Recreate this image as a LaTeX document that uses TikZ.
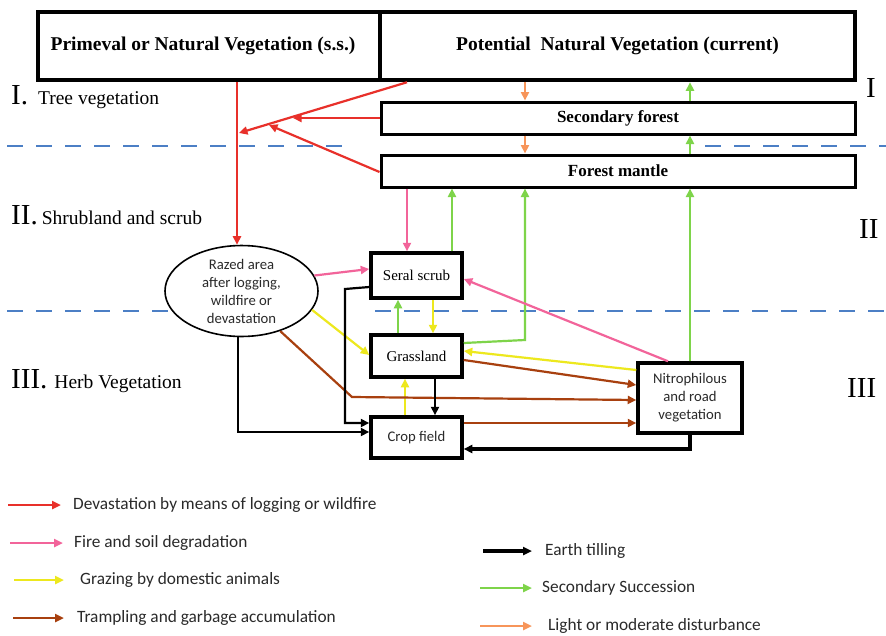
\documentclass[tikz,border=0pt]{standalone}
\usepackage{fontspec}
\setmainfont{Liberation Serif}
\newfontfamily\carl{Carlito}
\usetikzlibrary{arrows.meta,calc,shapes.geometric}

\definecolor{cred}{HTML}{E8302A}
\definecolor{cpink}{HTML}{F2649A}
\definecolor{cyellow}{HTML}{EDE81E}
\definecolor{cbrown}{HTML}{A8400F}
\definecolor{cgreen}{HTML}{7ED44A}
\definecolor{corange}{HTML}{F7955A}
\definecolor{cblue}{HTML}{4C7FC5}
\definecolor{ctext}{HTML}{2A2A2A}

\newcommand\zonenum{\fontsize{29}{30}\selectfont}
\newcommand\zonetxt{\fontsize{19.5}{22}\selectfont}

\begin{document}
\begin{tikzpicture}[x=1pt,y=-1pt,
  bigbox/.style={draw, line width=4.5pt, inner sep=0, minimum height=68pt,
    font=\bfseries\fontsize{19.5}{22}\selectfont},
  midbox/.style={draw, line width=3pt, inner sep=0, minimum width=474pt,
    minimum height=32pt, font=\bfseries\fontsize{17}{20}\selectfont},
  smallbox/.style={draw, line width=3.5pt, inner sep=0, minimum width=91pt, fill=white},
  serifbox/.style={font=\fontsize{15}{18}\selectfont},
  sansbox/.style={font={\carl\fontsize{14.7}{18}\selectfont}, text=ctext},
  arr/.style={line width=2.2pt, -{Triangle[length=8.5pt,width=8pt]}},
  legarr/.style={line width=2.5pt, -{Triangle[length=9pt,width=8pt]}},
  legtext/.style={anchor=west, inner sep=0, text=ctext,
    font={\carl\fontsize{17.3}{20}\selectfont}},
  zone/.style={anchor=base west, inner sep=0, text=black},
  divider/.style={cblue, line width=2.5pt, dash pattern=on 16pt off 13pt}
]
\useasboundingbox (0,0) rectangle (886,635);
\fill[white] (0,0) rectangle (886,635);

% zone dividers
\draw[divider] (7,146) -- (355,146);
\draw[divider] (705,146) -- (886,146);
\draw[divider] (7,311) -- (200,311);
\draw[divider] (375,311) -- (886,311);

% upper boxes
\node[bigbox, minimum width=342pt] (prim) at (209,46)
  {\hspace*{-12pt}Primeval or Natural Vegetation (s.s.)};
\node[bigbox, minimum width=475pt] (pot) at (617.5,46)
  {Potential\ \ Natural Vegetation (current)};
\node[midbox] (sf) at (618,118) {Secondary forest};
\node[midbox] (fm) at (618,171) {Forest mantle};

% lower boxes
\node[smallbox, serifbox, minimum height=45pt] (ss) at (416.5,275.5) {Seral scrub};
\node[smallbox, serifbox, minimum height=42pt] (gl) at (416.5,356) {Grassland};
\node[smallbox, sansbox, minimum height=41pt] (cf) at (416.5,437.5) {Crop field};
\node[smallbox, sansbox, minimum width=104pt, minimum height=70pt, align=center]
  (nv) at (690,398) {Nitrophilous\\and road\\vegetation};
\node[ellipse, draw, line width=1.6pt, fill=white, minimum width=153pt,
  minimum height=88pt, inner sep=0, align=center, text=ctext,
  font={\carl\fontsize{14.7}{18}\selectfont}]
  (razed) at (241.5,291) {Razed area\\after logging,\\wildfire or\\devastation};

% zone labels
\node[zone] (labI) at (11,104) {{\zonenum I.}\hspace{10pt}{\zonetxt Tree vegetation}};
\node[zone] (labII) at (11,224) {{\zonenum II.}\hspace{4pt}{\zonetxt Shrubland and scrub}};
\node[zone] (labIII) at (11,388) {{\zonenum III.}\hspace{7pt}{\zonetxt Herb Vegetation}};
\node[zone] (numI) at (866,97) {\zonenum I};
\node[zone] (numII) at (859,238) {\zonenum II};
\node[zone] (numIII) at (847,397) {\zonenum III};

% devastation by logging or wildfire
\coordinate (r1) at (239,133);
\coordinate (r2) at (293,118);
\coordinate (r3) at (269,125);
\draw[arr, cred] (237,0 |- prim.south) -- (237,0 |- razed.north);
\draw[arr, cred] (407,0 |- pot.south) -- (r1);
\draw[arr, cred] (sf.west |- 0,118) -- (r2);
\draw[arr, cred] (fm.west |- 0,172) -- (r3);

% light or moderate disturbance
\draw[arr, corange] (525,0 |- pot.south) -- (525,0 |- sf.north);
\draw[arr, corange] (525,0 |- sf.south) -- (525,0 |- fm.north);

% secondary succession
\draw[arr, cgreen] (690,0 |- sf.north) -- (690,0 |- pot.south);
\draw[arr, cgreen] (690,0 |- fm.north) -- (690,0 |- sf.south);
\draw[arr, cgreen] (452,0 |- ss.north) -- (452,0 |- fm.south);
\draw[arr, cgreen] (gl.east |- 0,343) -- (525,340) -- (525,0 |- fm.south);
\draw[arr, cgreen] (nv.north) -- (nv.north |- fm.south);
\draw[arr, cgreen] (398,0 |- gl.north) -- (398,0 |- ss.south);

% fire and soil degradation
\draw[arr, cpink] (407,0 |- fm.south) -- (407,0 |- ss.north);
\draw[arr, cpink] (razed.12) -- (ss.west |- 0,269);
\draw[arr, cpink] (668,0 |- nv.north) -- (ss.east |- 0,279);

% grazing
\draw[arr, cyellow] (433,0 |- ss.south) -- (433,0 |- gl.north);
\draw[arr, cyellow] (razed.-15) -- (gl.west |- 0,355);
\draw[arr, cyellow] (nv.west |- 0,370) -- (gl.east |- 0,351);
\draw[arr, cyellow] (405,0 |- cf.north) -- (405,0 |- gl.south);

% trampling and garbage
\draw[arr, cbrown] (razed.-46) -- (352,397) -- (nv.west |- 0,400);
\draw[arr, cbrown] (gl.east |- 0,360) -- (nv.west |- 0,385);
\draw[arr, cbrown] (cf.east |- 0,423) -- (nv.west |- 0,423);

% earth tilling
\draw[arr, black] (435,0 |- gl.south) -- (435,0 |- cf.north);
\draw[arr, black] (ss.west |- 0,287) -- (345,289) -- (345,423) -- (cf.west |- 0,423);
\draw[arr, black] (238,0 |- razed.south) -- (238,432) -- (cf.west |- 0,432);
\draw[arr, black, line width=3.2pt] (nv.south) -- (690,449) -- (cf.east |- 0,449);

% legend
\coordinate (la1) at (8,505);   \coordinate (lb1) at (61,505);
\coordinate (la2) at (10,543);  \coordinate (lb2) at (63,543);
\coordinate (la3) at (14,580);  \coordinate (lb3) at (64,580);
\coordinate (la4) at (13,618);  \coordinate (lb4) at (64,618);
\coordinate (la5) at (483,551); \coordinate (lb5) at (532,551);
\coordinate (la6) at (480,588); \coordinate (lb6) at (532,588);
\coordinate (la7) at (480,626); \coordinate (lb7) at (532,626);
\draw[legarr, cred] (la1) -- (lb1);
\draw[legarr, cpink] (la2) -- (lb2);
\draw[legarr, cyellow] (la3) -- (lb3);
\draw[legarr, cbrown] (la4) -- (lb4);
\draw[legarr, black, line width=4pt] (la5) -- (lb5);
\draw[legarr, cgreen] (la6) -- (lb6);
\draw[legarr, corange] (la7) -- (lb7);
\node[legtext] (lt1) at (73,505) {Devastation by means of logging or wildfire};
\node[legtext] (lt2) at (74,543) {Fire and soil degradation};
\node[legtext] (lt3) at (80,580) {Grazing by domestic animals};
\node[legtext] (lt4) at (77,618) {Trampling and garbage accumulation};
\node[legtext] (lt5) at (545,551) {Earth tilling};
\node[legtext] (lt6) at (542,588) {Secondary Succession};
\node[legtext] (lt7) at (548,626) {Light or moderate disturbance};
\end{tikzpicture}
\end{document}
